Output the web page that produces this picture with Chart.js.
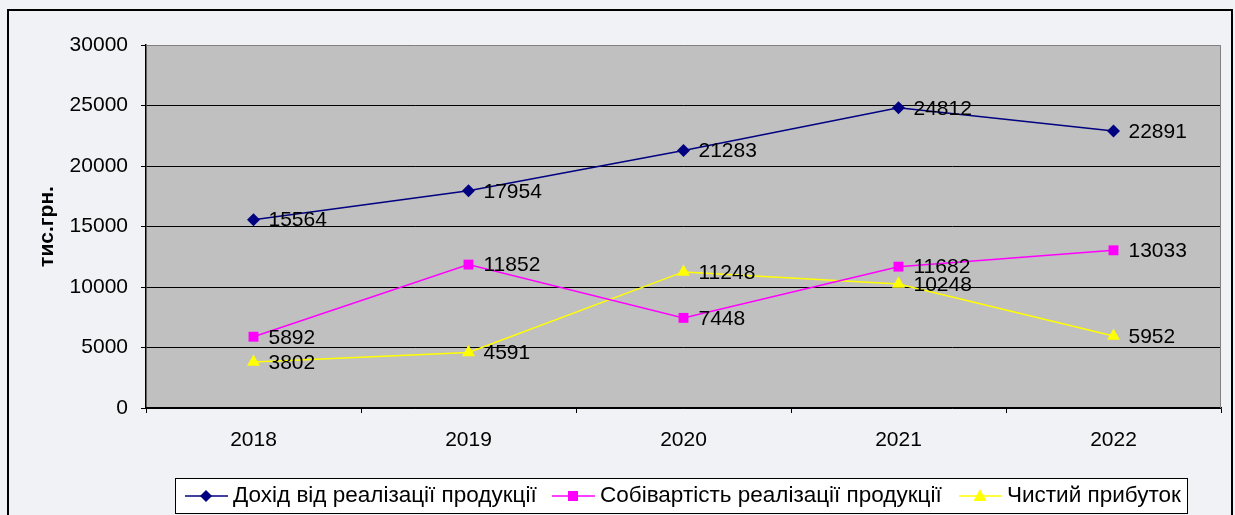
<!DOCTYPE html>
<html lang="uk">
<head>
<meta charset="UTF-8">
<title>Дохід, собівартість і чистий прибуток</title>
<script src="https://cdn.jsdelivr.net/npm/chart.js@4"></script>
<style>
  html, body { margin: 0; padding: 0; background: #fff; }
  canvas { display: block; }
</style>
</head>
<body>
<canvas id="chart" width="1235" height="515"></canvas>
<script>
// дані з діаграми, тис. грн
const years = ["2018", "2019", "2020", "2021", "2022"];
const dokhid = [15564, 17954, 21283, 24812, 22891];
const sobivartist = [5892, 11852, 7448, 11682, 13033];
const prybutok = [3802, 4591, 11248, 10248, 5952];
const seriesNames = ["Дохід від реалізації продукції", "Собівартість реалізації продукції", "Чистий прибуток"];
const yMax = 30000;
const yStep = 5000;
const yTitle = "тис.грн.";

const FONT = "'Liberation Sans', Arial, sans-serif";
// де починається кожен пункт легенди
const legendX = [185, 552, 959];

// рамка, фон і сіра область побудови
const backgroundPlugin = {
  id: "background",
  beforeDraw(chart) {
    const { ctx, chartArea: a } = chart;
    ctx.save();
    ctx.fillStyle = "#f1f2f5";
    ctx.fillRect(0, 0, chart.width, chart.height);
    ctx.fillStyle = "#c0c0c0";
    ctx.fillRect(a.left, a.top, a.right - a.left, a.bottom - a.top);
    ctx.strokeStyle = "#000";
    ctx.lineWidth = 2;
    ctx.strokeRect(8, 10, 1224, 530);
    ctx.restore();
  },
  beforeDatasetsDraw(chart) {
    const { ctx, chartArea: a } = chart;
    ctx.save();
    ctx.strokeStyle = "#808080";
    ctx.lineWidth = 1;
    ctx.beginPath();
    ctx.moveTo(a.left, a.top + 0.5);
    ctx.lineTo(a.right - 0.5, a.top + 0.5);
    ctx.lineTo(a.right - 0.5, a.bottom);
    ctx.stroke();
    ctx.restore();
  }
};

// підписи значень праворуч від точок
const valueLabels = {
  id: "valueLabels",
  afterDatasetsDraw(chart) {
    const ctx = chart.ctx;
    ctx.save();
    ctx.font = "21px " + FONT;
    ctx.fillStyle = "#000";
    ctx.textAlign = "left";
    ctx.textBaseline = "middle";
    chart.data.datasets.forEach((ds, i) => {
      chart.getDatasetMeta(i).data.forEach((pt, j) => {
        ctx.fillText(String(ds.data[j]), pt.x + 15, pt.y + 1);
      });
    });
    ctx.restore();
  }
};

function drawMarker(ctx, style, x, y, color) {
  ctx.fillStyle = color;
  ctx.beginPath();
  if (style === "rectRot") {
    ctx.moveTo(x - 6, y); ctx.lineTo(x, y - 6); ctx.lineTo(x + 6, y); ctx.lineTo(x, y + 6);
  } else if (style === "rect") {
    ctx.rect(x - 5, y - 5, 10, 10);
  } else {
    ctx.moveTo(x, y - 7); ctx.lineTo(x + 6.5, y + 5); ctx.lineTo(x - 6.5, y + 5);
  }
  ctx.closePath();
  ctx.fill();
}

// легенда в рамці та підпис осі Y
const boxLegend = {
  id: "boxLegend",
  afterDraw(chart) {
    const ctx = chart.ctx;
    ctx.save();
    ctx.fillStyle = "#fff";
    ctx.fillRect(175, 478, 1012, 35);
    ctx.strokeStyle = "#000";
    ctx.lineWidth = 1;
    ctx.strokeRect(175.5, 478.5, 1012, 35);
    ctx.font = "22.5px " + FONT;
    ctx.textBaseline = "middle";
    const y = 496;
    chart.data.datasets.forEach((ds, i) => {
      const x = legendX[i];
      ctx.strokeStyle = ds.borderColor;
      ctx.lineWidth = 1.5;
      ctx.beginPath();
      ctx.moveTo(x, y);
      ctx.lineTo(x + 43, y);
      ctx.stroke();
      drawMarker(ctx, ds.pointStyle, x + 21, y, ds.borderColor);
      ctx.fillStyle = "#000";
      ctx.fillText(ds.label, x + 48, y);
    });

    ctx.translate(47, (chart.chartArea.top + chart.chartArea.bottom) / 2);
    ctx.rotate(-Math.PI / 2);
    ctx.font = "bold 21px " + FONT;
    ctx.textAlign = "center";
    ctx.fillText(yTitle, 0, 0);
    ctx.restore();
  }
};

new Chart(document.getElementById("chart"), {
  type: "line",
  data: {
    labels: years,
    datasets: [
      { label: seriesNames[0], data: dokhid, borderColor: "#000080", backgroundColor: "#000080",
        pointStyle: "rectRot", pointRadius: 6.5 },
      { label: seriesNames[1], data: sobivartist, borderColor: "#ff00ff", backgroundColor: "#ff00ff",
        pointStyle: "rect", pointRadius: 7 },
      { label: seriesNames[2], data: prybutok, borderColor: "#ffff00", backgroundColor: "#ffff00",
        pointStyle: "triangle", pointRadius: 7.5 }
    ]
  },
  options: {
    responsive: false,
    animation: false,
    layout: { padding: { left: 8, top: 45, right: 14, bottom: 0 } },
    elements: {
      line: { borderWidth: 1.5, tension: 0 },
      point: { borderWidth: 0, hoverRadius: 7 }
    },
    plugins: {
      legend: { display: false },
      tooltip: { enabled: false }
    },
    scales: {
      x: {
        offset: true,
        grid: { offset: true, drawOnChartArea: false, tickLength: 5, tickColor: "#000" },
        border: { color: "#000", width: 1.5 },
        ticks: { color: "#000", font: { family: FONT, size: 21 }, padding: 15 },
        afterFit(scale) { scale.height = 107; }
      },
      y: {
        min: 0,
        max: yMax,
        grid: {
          tickLength: 5,
          tickColor: "#000",
          color: ctx => (ctx.tick && ctx.tick.value === yMax) ? "rgba(0,0,0,0)" : "#000",
          lineWidth: 1
        },
        border: { color: "#000", width: 1.5 },
        ticks: {
          stepSize: yStep, color: "#000", font: { family: FONT, size: 21 }, padding: 13,
          callback: v => String(v)
        },
        afterFit(scale) { scale.width = 138; }
      }
    }
  },
  plugins: [backgroundPlugin, valueLabels, boxLegend]
});
</script>
</body>
</html>
